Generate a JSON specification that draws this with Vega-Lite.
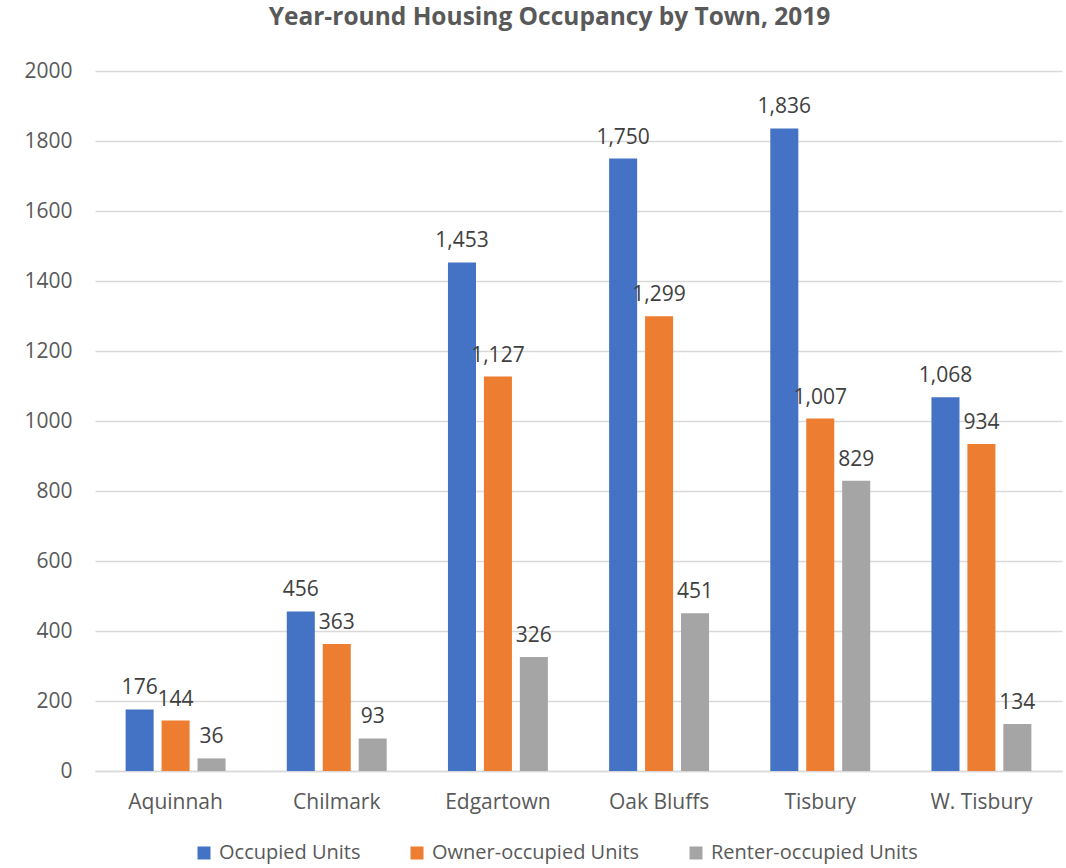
{
  "$schema": "https://vega.github.io/schema/vega-lite/v6.json",
  "width": 967,
  "height": 700,
  "autosize": "none",
  "padding": {"left": 95, "top": 71, "right": 4, "bottom": 97},
  "background": "white",
  "view": {"stroke": null},
  "title": {
    "text": "Year-round Housing Occupancy by Town, 2019",
    "font": "Open Sans",
    "fontSize": 24.5,
    "fontWeight": "bold",
    "color": "#595959",
    "anchor": "middle",
    "offset": 30,
    "dx": -29
  },
  "data": {
    "values": [
      {"town": "Aquinnah", "series": "Occupied Units", "value": 176},
      {"town": "Aquinnah", "series": "Owner-occupied Units", "value": 144},
      {"town": "Aquinnah", "series": "Renter-occupied Units", "value": 36},
      {"town": "Chilmark", "series": "Occupied Units", "value": 456},
      {"town": "Chilmark", "series": "Owner-occupied Units", "value": 363},
      {"town": "Chilmark", "series": "Renter-occupied Units", "value": 93},
      {"town": "Edgartown", "series": "Occupied Units", "value": 1453},
      {"town": "Edgartown", "series": "Owner-occupied Units", "value": 1127},
      {"town": "Edgartown", "series": "Renter-occupied Units", "value": 326},
      {"town": "Oak Bluffs", "series": "Occupied Units", "value": 1750},
      {"town": "Oak Bluffs", "series": "Owner-occupied Units", "value": 1299},
      {"town": "Oak Bluffs", "series": "Renter-occupied Units", "value": 451},
      {"town": "Tisbury", "series": "Occupied Units", "value": 1836},
      {"town": "Tisbury", "series": "Owner-occupied Units", "value": 1007},
      {"town": "Tisbury", "series": "Renter-occupied Units", "value": 829},
      {"town": "W. Tisbury", "series": "Occupied Units", "value": 1068},
      {"town": "W. Tisbury", "series": "Owner-occupied Units", "value": 934},
      {"town": "W. Tisbury", "series": "Renter-occupied Units", "value": 134}
    ]
  },
  "encoding": {
    "x": {
      "field": "town",
      "type": "nominal",
      "sort": null,
      "scale": {"paddingInner": 0.38, "paddingOuter": 0.19},
      "axis": {
        "title": null,
        "labelAngle": 0,
        "labelFont": "Open Sans",
        "labelFontSize": 21,
        "labelColor": "#595959",
        "labelPadding": 20,
        "ticks": false,
        "domainColor": "#D9D9D9",
        "domainWidth": 1.5
      }
    },
    "xOffset": {
      "field": "series",
      "type": "nominal",
      "scale": {"paddingInner": 0.22}
    },
    "y": {
      "field": "value",
      "type": "quantitative",
      "scale": {"domain": [0, 2000], "nice": false},
      "axis": {
        "title": null,
        "values": [0, 200, 400, 600, 800, 1000, 1200, 1400, 1600, 1800, 2000],
        "format": "d",
        "labelFont": "Open Sans",
        "labelFontSize": 21,
        "labelColor": "#595959",
        "labelPadding": 23,
        "ticks": false,
        "domain": false,
        "gridColor": "#D9D9D9",
        "gridWidth": 1.5
      }
    }
  },
  "layer": [
    {
      "mark": {"type": "bar"},
      "encoding": {
        "color": {
          "field": "series",
          "type": "nominal",
          "scale": {
            "domain": ["Occupied Units", "Owner-occupied Units", "Renter-occupied Units"],
            "range": ["#4472C4", "#ED7D31", "#A5A5A5"]
          },
          "legend": {
            "title": null,
            "orient": "none",
            "legendX": 99,
            "legendY": 772,
            "direction": "horizontal",
            "symbolType": "square",
            "symbolSize": 169,
            "symbolStrokeWidth": 0,
            "symbolOpacity": 1,
            "labelFont": "Open Sans",
            "labelFontSize": 20,
            "labelLimit": 400,
            "labelColor": "#595959",
            "labelOffset": 5,
            "columnPadding": 46
          }
        }
      }
    },
    {
      "mark": {
        "type": "text",
        "baseline": "alphabetic",
        "dy": -15,
        "font": "Open Sans",
        "fontSize": 21,
        "color": "#404040"
      },
      "encoding": {
        "text": {"field": "value", "type": "quantitative", "format": ","}
      }
    }
  ]
}
